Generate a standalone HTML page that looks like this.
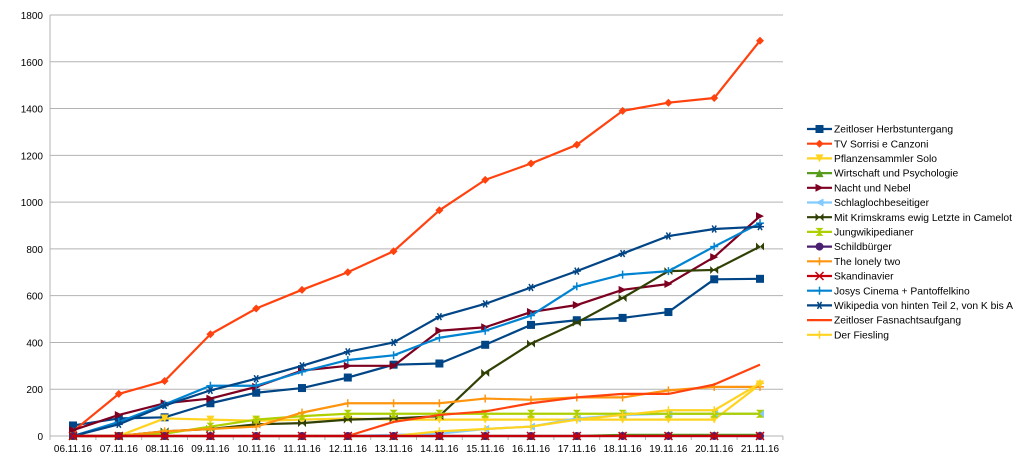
<!DOCTYPE html>
<html><head><meta charset="utf-8"><style>
html,body{margin:0;padding:0;background:#fff}
svg{display:block;font-family:"Liberation Sans",sans-serif}
</style></head><body>
<svg id="c" width="1024" height="464" xmlns="http://www.w3.org/2000/svg"></svg>
<script>
const s=document.getElementById('c');const NS='http://www.w3.org/2000/svg';
function el(t,a,txt){const e=document.createElementNS(NS,t);for(const k in a)e.setAttribute(k,a[k]);if(txt!==undefined)e.textContent=txt;s.appendChild(e);return e;}
const X0=73,DX=45.8,Y0=436,K=421/1800;
const X=i=>X0+i*DX,Y=v=>Y0-v*K;
for(let v=0;v<=1800;v+=200){el('line',{x1:50,x2:783,y1:Y(v),y2:Y(v),stroke:'#b3b3b3','stroke-width':1});
el('text',{x:43,y:Y(v)+4,'text-anchor':'end','font-size':10,fill:'#000'},v);}
el('line',{x1:50,x2:50,y1:15,y2:440,stroke:'#b3b3b3'});
el('line',{x1:50,x2:783,y1:436,y2:436,stroke:'#b3b3b3'});
const dates=[];for(let d=6;d<=21;d++)dates.push((d<10?'0':'')+d+'.11.16');
dates.forEach((d,i)=>{el('line',{x1:X(i)+DX/2,x2:X(i)+DX/2,y1:436,y2:440,stroke:'#b3b3b3'});el('text',{x:X(i),y:452,'text-anchor':'middle','font-size':10,fill:'#000'},d);});
const S=[
['Zeitloser Herbstuntergang','#004586','sq',[45,75,80,140,185,205,250,305,310,390,475,495,505,530,670,672]],
['TV Sorrisi e Canzoni','#ff420e','di',[20,180,235,435,545,625,700,790,965,1095,1165,1245,1390,1425,1445,1690]],
['Pflanzensammler Solo','#ffd320','td',[0,0,75,70,65,70,75,70,70,70,70,70,70,70,70,220]],
['Wirtschaft und Psychologie','#579d1c','tu',[0,0,0,0,0,0,0,0,0,0,0,0,5,5,5,5]],
['Nacht und Nebel','#7e0021','tr',[25,90,140,160,210,280,300,300,450,465,530,560,625,650,765,940]],
['Schlaglochbeseitiger','#83caff','tl',[0,0,0,0,0,0,0,5,10,30,40,75,90,95,95,95]],
['Mit Krimskrams ewig Letzte in Camelot','#314004','bt',[0,0,20,30,50,55,70,75,85,270,395,485,590,705,710,810]],
['Jungwikipedianer','#aecf00','hg',[0,0,10,40,70,85,95,95,95,95,95,95,95,95,95,95]],
['Schildbürger','#4b1f6f','ci',[0,0,0,0,0,0,0,0,0,0,0,0,0,0,0,0]],
['The lonely two','#ff950e','pl',[0,0,20,30,40,100,140,140,140,160,155,165,165,195,210,210]],
['Skandinavier','#c5000b','x',[0,0,0,0,0,0,0,0,0,0,0,0,0,0,0,0]],
['Josys Cinema + Pantoffelkino','#0084d1','pl',[0,60,135,215,215,275,325,345,420,450,515,640,690,705,810,910]],
['Wikipedia von hinten Teil 2, von K bis A','#004586','st',[0,50,130,195,245,300,360,400,510,565,635,705,780,855,885,895]],
['Zeitloser Fasnachtsaufgang','#ff420e','no',[0,0,0,0,0,0,0,60,90,105,140,165,180,180,220,305]],
['Der Fiesling','#ffd320','pl',[0,0,0,0,0,0,0,0,20,30,40,70,90,110,110,225]]];
function mk(t,x,y,c){const r=4;
if(t=='sq')el('rect',{x:x-r,y:y-r,width:2*r,height:2*r,fill:c});
else if(t=='di')el('polygon',{points:`${x},${y-r} ${x+r},${y} ${x},${y+r} ${x-r},${y}`,fill:c});
else if(t=='td')el('polygon',{points:`${x-r},${y-r} ${x+r},${y-r} ${x},${y+r}`,fill:c});
else if(t=='tu')el('polygon',{points:`${x-r},${y+r} ${x+r},${y+r} ${x},${y-r}`,fill:c});
else if(t=='tr')el('polygon',{points:`${x-r},${y-r} ${x-r},${y+r} ${x+r},${y}`,fill:c});
else if(t=='tl')el('polygon',{points:`${x+r},${y-r} ${x+r},${y+r} ${x-r},${y}`,fill:c});
else if(t=='bt')el('polygon',{points:`${x-r},${y-r} ${x-r},${y+r} ${x+r},${y-r} ${x+r},${y+r}`,fill:c});
else if(t=='hg')el('polygon',{points:`${x-r},${y-r} ${x+r},${y-r} ${x-r},${y+r} ${x+r},${y+r}`,fill:c});
else if(t=='ci')el('circle',{cx:x,cy:y,r:r,fill:c});
else if(t=='pl'){el('line',{x1:x-r,x2:x+r,y1:y,y2:y,stroke:c,'stroke-width':1.5});el('line',{x1:x,x2:x,y1:y-r,y2:y+r,stroke:c,'stroke-width':1.5});}
else if(t=='x'){el('line',{x1:x-r,x2:x+r,y1:y-r,y2:y+r,stroke:c,'stroke-width':1.5});el('line',{x1:x+r,x2:x-r,y1:y-r,y2:y+r,stroke:c,'stroke-width':1.5});}
else if(t=='st'){for(let a=0;a<3;a++){const an=a*Math.PI/3;el('line',{x1:x-r*Math.cos(an),x2:x+r*Math.cos(an),y1:y-r*Math.sin(an),y2:y+r*Math.sin(an),stroke:c,'stroke-width':1.5});}}
}
const order=[0,1,2,3,4,5,6,7,9,11,12,13,14,8,10];
order.forEach(k=>{const [n,c,t,d]=S[k];el('polyline',{points:d.map((v,i)=>X(i)+','+Y(v)).join(' '),fill:'none',stroke:c,'stroke-width':2.2,'stroke-linejoin':'round'});d.forEach((v,i)=>mk(t,X(i),Y(v),c));});
S.forEach(([n,c,t],i)=>{const y=129+i*14.7;el('line',{x1:807,x2:832,y1:y,y2:y,stroke:c,'stroke-width':2.2});mk(t,819.5,y,c);el('text',{x:834,y:y+3.6,'font-size':10.3,fill:'#000'},n);});
</script>
</body></html>
